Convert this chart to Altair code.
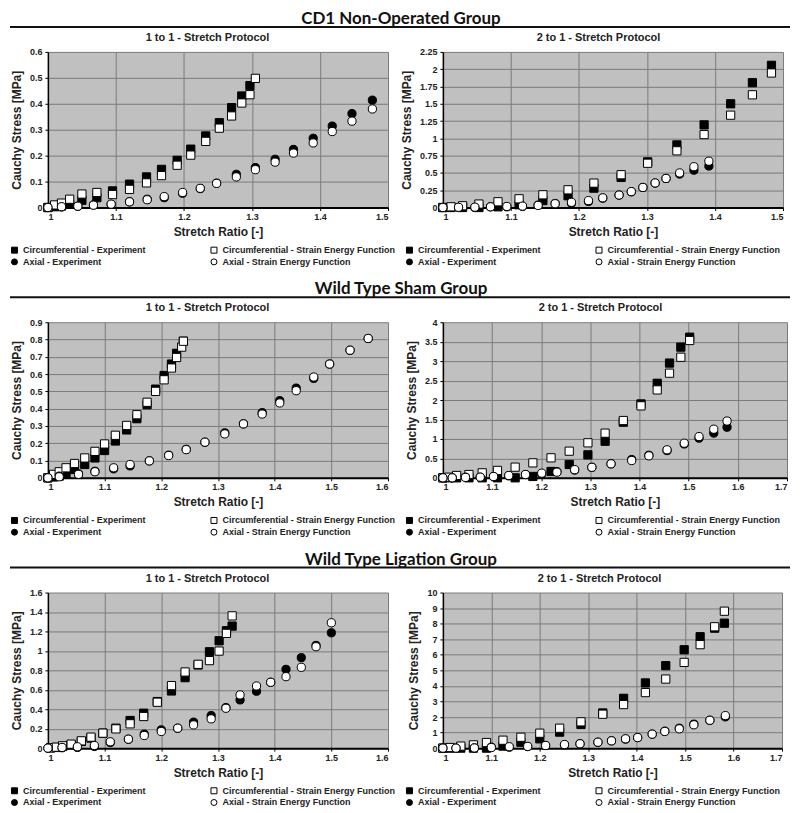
import altair as alt
import pandas as pd

SERIES = ["Circumferential - Experiment", "Circumferential - Strain Energy Function",
          "Axial - Experiment", "Axial - Strain Energy Function"]
SHAPES = ["square", "square", "circle", "circle"]
FILLS = ["black", "white", "black", "white"]
STROKES = ["black", "black", "black", "black"]
GROUPS = ["CD1 Non-Operated Group", "Wild Type Sham Group", "Wild Type Ligation Group"]
PROTOCOLS = ["1 to 1 - Stretch Protocol", "2 to 1 - Stretch Protocol"]

X_TICKS_15 = [1.0, 1.1, 1.2, 1.3, 1.4, 1.5]
X_TICKS_16 = [1.0, 1.1, 1.2, 1.3, 1.4, 1.5, 1.6]
X_TICKS_17 = [1.0, 1.1, 1.2, 1.3, 1.4, 1.5, 1.6, 1.7]
Y_TICKS_A1 = [0, 0.1, 0.2, 0.3, 0.4, 0.5, 0.6]
Y_TICKS_A2 = [0, 0.25, 0.5, 0.75, 1, 1.25, 1.5, 1.75, 2, 2.25]
Y_TICKS_B1 = [0, 0.1, 0.2, 0.3, 0.4, 0.5, 0.6, 0.7, 0.8, 0.9]
Y_TICKS_B2 = [0, 0.5, 1, 1.5, 2, 2.5, 3, 3.5, 4]
Y_TICKS_C1 = [0, 0.2, 0.4, 0.6, 0.8, 1, 1.2, 1.4, 1.6]
Y_TICKS_C2 = [0, 1, 2, 3, 4, 5, 6, 7, 8, 9, 10]

# ---- CD1 Non-Operated, 1 to 1 ----
A1_CE_X = [1.0, 1.01, 1.02, 1.032, 1.05, 1.072, 1.095, 1.12, 1.145, 1.167, 1.19, 1.21, 1.232, 1.252, 1.27, 1.285, 1.297]
A1_CE_Y = [0.0, 0.003, 0.006, 0.012, 0.028, 0.038, 0.064, 0.09, 0.118, 0.147, 0.182, 0.225, 0.276, 0.327, 0.385, 0.43, 0.47]
A1_CS_X = [1.0, 1.01, 1.02, 1.032, 1.05, 1.072, 1.095, 1.12, 1.145, 1.167, 1.19, 1.21, 1.232, 1.252, 1.27, 1.285, 1.297, 1.305]
A1_CS_Y = [0.0, 0.01, 0.017, 0.032, 0.052, 0.058, 0.05, 0.07, 0.095, 0.123, 0.163, 0.202, 0.255, 0.306, 0.353, 0.403, 0.435, 0.498]
A1_AX_X = [1.0, 1.02, 1.044, 1.067, 1.093, 1.12, 1.146, 1.171, 1.198, 1.224, 1.248, 1.277, 1.305, 1.334, 1.361, 1.39, 1.418, 1.447, 1.477]
A1_AE_Y = [0.0, 0.002, 0.005, 0.01, 0.012, 0.022, 0.032, 0.038, 0.055, 0.073, 0.094, 0.128, 0.154, 0.186, 0.224, 0.267, 0.314, 0.362, 0.414]
A1_AS_Y = [0.0, 0.003, 0.005, 0.009, 0.013, 0.022, 0.03, 0.042, 0.058, 0.074, 0.093, 0.118, 0.146, 0.175, 0.21, 0.249, 0.293, 0.333, 0.38]

# ---- CD1 Non-Operated, 2 to 1 ----
A2_C_X = [1.0, 1.012, 1.029, 1.053, 1.081, 1.112, 1.147, 1.184, 1.222, 1.262, 1.301, 1.344, 1.384, 1.423, 1.455, 1.483]
A2_CE_Y = [0.0, 0.0, 0.0, 0.0, 0.01, 0.04, 0.1, 0.17, 0.28, 0.435, 0.66, 0.905, 1.195, 1.5, 1.805, 2.056]
A2_CS_Y = [0.0, 0.01, 0.025, 0.05, 0.083, 0.126, 0.184, 0.256, 0.353, 0.474, 0.64, 0.82, 1.055, 1.335, 1.63, 1.945]
A2_A_X = [1.0, 1.023, 1.047, 1.07, 1.094, 1.117, 1.14, 1.165, 1.189, 1.214, 1.235, 1.259, 1.277, 1.294, 1.312, 1.328, 1.348, 1.369, 1.391]
A2_AE_Y = [0.0, 0.0, 0.0, 0.01, 0.01, 0.015, 0.035, 0.058, 0.063, 0.087, 0.135, 0.18, 0.227, 0.29, 0.353, 0.42, 0.484, 0.54, 0.6]
A2_AS_Y = [0.0, 0.003, 0.005, 0.01, 0.015, 0.02, 0.03, 0.055, 0.075, 0.1, 0.14, 0.18, 0.23, 0.29, 0.355, 0.42, 0.5, 0.59, 0.67]

# ---- Wild Type Sham, 1 to 1 ----
B1_CE_X = [1.0, 1.01, 1.02, 1.032, 1.047, 1.065, 1.083, 1.1, 1.119, 1.139, 1.157, 1.175, 1.19, 1.205, 1.218, 1.227, 1.239]
B1_CE_Y = [0.0, 0.005, 0.01, 0.025, 0.048, 0.077, 0.115, 0.158, 0.213, 0.277, 0.342, 0.423, 0.513, 0.592, 0.658, 0.72, 0.79]
B1_CS_X = [1.0, 1.01, 1.02, 1.032, 1.047, 1.065, 1.083, 1.1, 1.119, 1.139, 1.157, 1.175, 1.19, 1.205, 1.218, 1.227, 1.236, 1.239]
B1_CS_Y = [0.0, 0.02, 0.035, 0.058, 0.083, 0.115, 0.153, 0.196, 0.246, 0.303, 0.365, 0.437, 0.5, 0.567, 0.635, 0.696, 0.756, 0.79]
B1_A_X = [1.0, 1.02, 1.054, 1.083, 1.116, 1.145, 1.179, 1.213, 1.244, 1.277, 1.312, 1.345, 1.378, 1.409, 1.438, 1.469, 1.497, 1.533, 1.565]
B1_AE_Y = [0.0, 0.01, 0.023, 0.038, 0.052, 0.069, 0.098, 0.131, 0.165, 0.206, 0.26, 0.312, 0.377, 0.446, 0.519, 0.575, 0.658, 0.738, 0.806]
B1_AS_Y = [0.0, 0.006, 0.02, 0.035, 0.058, 0.077, 0.098, 0.129, 0.163, 0.206, 0.254, 0.312, 0.369, 0.433, 0.504, 0.583, 0.658, 0.738, 0.806]

# ---- Wild Type Sham, 2 to 1 ----
B2_C_X = [1.0, 1.012, 1.028, 1.053, 1.08, 1.111, 1.147, 1.183, 1.22, 1.257, 1.295, 1.33, 1.367, 1.403, 1.436, 1.461, 1.484, 1.502]
B2_CE_Y = [0.0, 0.0, 0.0, 0.0, 0.0, 0.0, 0.0, 0.035, 0.163, 0.343, 0.59, 0.94, 1.43, 1.9, 2.43, 2.95, 3.36, 3.615]
B2_CS_Y = [0.0, 0.017, 0.06, 0.085, 0.128, 0.19, 0.274, 0.385, 0.514, 0.685, 0.9, 1.148, 1.473, 1.85, 2.26, 2.69, 3.1, 3.53]
B2_A_X = [1.0, 1.019, 1.046, 1.076, 1.103, 1.134, 1.168, 1.201, 1.232, 1.268, 1.303, 1.342, 1.384, 1.419, 1.456, 1.491, 1.521, 1.551, 1.578]
B2_AE_Y = [0.0, 0.0, 0.017, 0.017, 0.034, 0.05, 0.085, 0.1, 0.16, 0.2, 0.27, 0.36, 0.47, 0.58, 0.7, 0.87, 1.02, 1.15, 1.3]
B2_AS_Y = [0.0, 0.0, 0.01, 0.017, 0.034, 0.06, 0.085, 0.12, 0.146, 0.21, 0.27, 0.36, 0.445, 0.565, 0.72, 0.89, 1.06, 1.25, 1.46]

# ---- Wild Type Ligation, 1 to 1 ----
C1_C_X = [1.005, 1.015, 1.026, 1.041, 1.059, 1.076, 1.097, 1.12, 1.145, 1.169, 1.193, 1.218, 1.242, 1.265, 1.285, 1.302, 1.315, 1.325]
C1_CE_Y = [0.003, 0.007, 0.017, 0.034, 0.068, 0.103, 0.154, 0.205, 0.284, 0.359, 0.479, 0.588, 0.725, 0.855, 0.991, 1.104, 1.207, 1.255]
C1_CS_Y = [0.003, 0.01, 0.024, 0.041, 0.075, 0.113, 0.154, 0.198, 0.25, 0.325, 0.472, 0.643, 0.783, 0.862, 0.9, 0.998, 1.18, 1.36]
C1_A_X = [1.0, 1.025, 1.052, 1.082, 1.11, 1.142, 1.17, 1.2, 1.229, 1.257, 1.288, 1.314, 1.339, 1.368, 1.393, 1.42, 1.447, 1.473, 1.5]
C1_AE_Y = [0.0, 0.004, 0.007, 0.017, 0.058, 0.092, 0.144, 0.188, 0.205, 0.267, 0.335, 0.417, 0.496, 0.585, 0.677, 0.81, 0.93, 1.056, 1.186]
C1_AS_Y = [0.0, 0.007, 0.014, 0.027, 0.065, 0.092, 0.13, 0.171, 0.205, 0.239, 0.301, 0.41, 0.547, 0.639, 0.677, 0.735, 0.831, 1.043, 1.289]

# ---- Wild Type Ligation, 2 to 1 ----
C2_C_X = [1.0, 1.015, 1.037, 1.063, 1.09, 1.124, 1.161, 1.2, 1.241, 1.285, 1.33, 1.373, 1.418, 1.46, 1.498, 1.531, 1.561, 1.581]
C2_CE_Y = [0.0, 0.0, 0.0, 0.0, 0.0, 0.13, 0.38, 0.6, 1.03, 1.52, 2.26, 3.2, 4.19, 5.3, 6.32, 7.16, 7.71, 8.03]
C2_CS_Y = [0.0, 0.04, 0.13, 0.21, 0.36, 0.51, 0.7, 0.96, 1.28, 1.69, 2.18, 2.8, 3.57, 4.44, 5.51, 6.65, 7.8, 8.8]
C2_A_X = [1.0, 1.027, 1.065, 1.1, 1.137, 1.175, 1.212, 1.251, 1.283, 1.32, 1.348, 1.377, 1.402, 1.432, 1.458, 1.488, 1.518, 1.551, 1.583]
C2_AE_Y = [0.0, 0.0, 0.02, 0.06, 0.06, 0.1, 0.17, 0.21, 0.28, 0.38, 0.47, 0.58, 0.68, 0.9, 1.09, 1.28, 1.54, 1.79, 2.01]
C2_AS_Y = [0.0, 0.0, 0.01, 0.04, 0.09, 0.11, 0.17, 0.23, 0.28, 0.38, 0.47, 0.6, 0.68, 0.9, 1.07, 1.24, 1.5, 1.79, 2.09]

FONT = "Liberation Sans"
H = 156


def panel(title, series_xy, xticks, yticks, width, title_x, legend_x, col_pad, group=None):
    rows = []
    for k, (name, (xs, ys)) in enumerate(zip(SERIES, series_xy)):
        for x, y in zip(xs, ys):
            rows.append({"series": name, "x": x, "y": y, "k": k})
    df = pd.DataFrame(rows)
    leg = alt.Legend(title=None, orient="none", legendX=legend_x, legendY=H + 38,
                     direction="horizontal", columns=2, columnPadding=col_pad, rowPadding=1,
                     symbolSize=36, symbolStrokeWidth=1,
                     labelFont=FONT, labelFontSize=9, labelFontWeight="bold",
                     labelColor="#222", labelOffset=4, labelLimit=300)
    pts = alt.Chart(df).mark_point(filled=True, size=68, strokeWidth=1, opacity=1).encode(
        x=alt.X("x:Q", scale=alt.Scale(domain=[xticks[0], xticks[-1]], nice=False, zero=False),
                axis=alt.Axis(values=xticks, format=".1~f", title="Stretch Ratio [-]")),
        y=alt.Y("y:Q", scale=alt.Scale(domain=[yticks[0], yticks[-1]], nice=False),
                axis=alt.Axis(values=yticks, format=".2~f", title="Cauchy Stress [MPa]")),
        shape=alt.Shape("series:N", scale=alt.Scale(domain=SERIES, range=SHAPES), legend=leg),
        fill=alt.Fill("series:N", scale=alt.Scale(domain=SERIES, range=FILLS), legend=leg),
        stroke=alt.Stroke("series:N", scale=alt.Scale(domain=SERIES, range=STROKES), legend=leg),
    )
    tdf = pd.DataFrame({"title": [title]})
    ttl = alt.Chart(tdf).mark_text(font=FONT, fontSize=11, fontWeight="bold", align="center",
                                   baseline="middle", color="#222").encode(
        x=alt.value(title_x), y=alt.value(-14), text="title:N")
    layers = [pts, ttl]
    if group is not None:
        gdf = pd.DataFrame({"group": [group]})
        txt = alt.Chart(gdf).mark_text(font="Lato", fontSize=17, fontWeight="bold",
                                       align="center", baseline="middle", color="#111").encode(
            x=alt.value(354), y=alt.value(-33), text="group:N")
        rule = alt.Chart(gdf).mark_rule(color="#111", strokeWidth=2).encode(
            x=alt.value(-38), x2=alt.value(744), y=alt.value(-25))
        layers += [txt, rule]
    return alt.layer(*layers).properties(width=width, height=H)


p1 = panel(PROTOCOLS[0], [(A1_CE_X, A1_CE_Y), (A1_CS_X, A1_CS_Y), (A1_AX_X, A1_AE_Y), (A1_AX_X, A1_AS_Y)],
           X_TICKS_15, Y_TICKS_A1, 341, 160, -38, 62, GROUPS[0])
p2 = panel(PROTOCOLS[1], [(A2_C_X, A2_CE_Y), (A2_C_X, A2_CS_Y), (A2_A_X, A2_AE_Y), (A2_A_X, A2_AS_Y)],
           X_TICKS_15, Y_TICKS_A2, 341, 156, -38, 52)
p3 = panel(PROTOCOLS[0], [(B1_CE_X, B1_CE_Y), (B1_CS_X, B1_CS_Y), (B1_A_X, B1_AE_Y), (B1_A_X, B1_AS_Y)],
           X_TICKS_16, Y_TICKS_B1, 341, 160, -38, 62, GROUPS[1])
p4 = panel(PROTOCOLS[1], [(B2_C_X, B2_CE_Y), (B2_C_X, B2_CS_Y), (B2_A_X, B2_AE_Y), (B2_A_X, B2_AS_Y)],
           X_TICKS_17, Y_TICKS_B2, 345, 158, -38, 52)
p5 = panel(PROTOCOLS[0], [(C1_C_X, C1_CE_Y), (C1_C_X, C1_CS_Y), (C1_A_X, C1_AE_Y), (C1_A_X, C1_AS_Y)],
           X_TICKS_16, Y_TICKS_C1, 341, 160, -38, 62, GROUPS[2])
p6 = panel(PROTOCOLS[1], [(C2_C_X, C2_CE_Y), (C2_C_X, C2_CS_Y), (C2_A_X, C2_AE_Y), (C2_A_X, C2_AS_Y)],
           X_TICKS_17, Y_TICKS_C2, 340, 157, -38, 52)

chart = alt.concat(p1, p2, p3, p4, p5, p6, columns=2, spacing=alt.RowColnumber(row=115, column=55),
                   bounds="flush").resolve_scale(
    x="independent", y="independent", shape="independent", fill="independent", stroke="independent"
).properties(padding=0).configure_view(
    fill="#c0c0c0", stroke="transparent"
).configure_axis(
    labelFont=FONT, labelFontSize=9, labelFontWeight="bold", labelColor="#222",
    titleFont=FONT, titleFontSize=12, titleFontWeight="bold", titleColor="#222",
    gridColor="#7a7a7a", gridOpacity=1, gridWidth=1,
    domainColor="black", tickColor="black", tickSize=3
).configure_axisX(
    domainWidth=2, labelPadding=2, titlePadding=5
).configure_axisY(
    domainWidth=1.5, labelPadding=3, titlePadding=6
)

chart.save("out.html", embed_options={"renderer": "svg", "actions": False})
